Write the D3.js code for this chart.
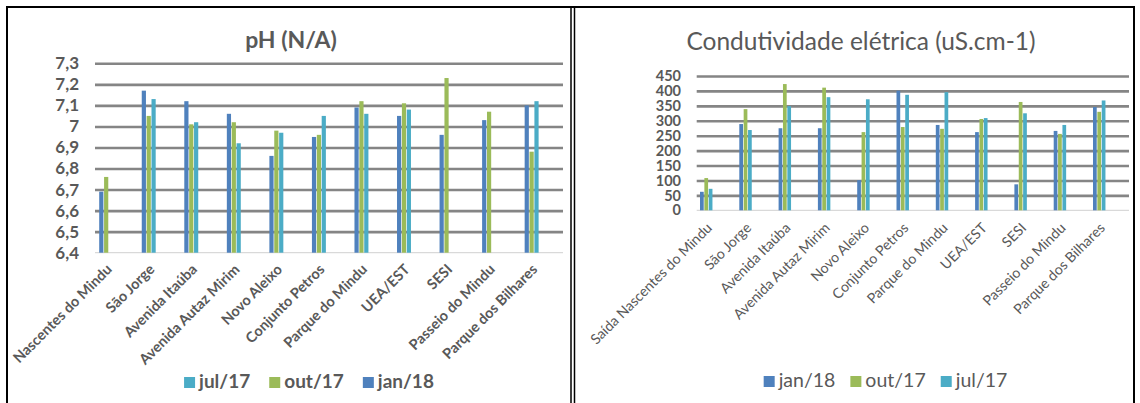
<!DOCTYPE html>
<html>
<head>
<meta charset="utf-8">
<script src="https://cdn.jsdelivr.net/npm/d3@7/dist/d3.min.js"></script>
<style>
  html, body { margin: 0; padding: 0; background: #fff; }
  svg { display: block; }
  text { font-family: Lato, "Open Sans", sans-serif; fill: #595959; }
</style>
</head>
<body>
<svg id="chart" width="1140" height="403"></svg>
<script>
// ---------------- DATA ----------------
const categoriesPH = ["Nascentes do Mindu", "São Jorge", "Avenida Itaúba", "Avenida Autaz Mirim", "Novo Aleixo", "Conjunto Petros", "Parque do Mindu", "UEA/EST", "SESI", "Passeio do Mindu", "Parque dos Bilhares"];
const categoriesCE = ["Saída Nascentes do Mindu", "São Jorge", "Avenida Itaúba", "Avenida Autaz Mirim", "Novo Aleixo", "Conjunto Petros", "Parque do Mindu", "UEA/EST", "SESI", "Passeio do Mindu", "Parque dos Bilhares"];

const phJan18 = [6.69, 7.17, 7.12, 7.06, 6.86, 6.95, 7.09, 7.05, 6.96, 7.03, 7.10];
const phOut17 = [6.76, 7.05, 7.01, 7.02, 6.98, 6.96, 7.12, 7.11, 7.23, 7.07, 6.88];
const phJul17 = [null, 7.13, 7.02, 6.92, 6.97, 7.05, 7.06, 7.08, null, null, 7.12];

const ceJan18 = [62, 289, 275, 275, 101, 401, 286, 262, 87, 266, 346];
const ceOut17 = [108, 339, 423, 411, 262, 279, 273, 306, 363, 256, 330];
const ceJul17 = [72, 269, 349, 379, 372, 387, 396, 309, 325, 286, 368];

const phTicks = [6.4, 6.5, 6.6, 6.7, 6.8, 6.9, 7.0, 7.1, 7.2, 7.3];
const phTickLabels = ["6,4", "6,5", "6,6", "6,7", "6,8", "6,9", "7", "7,1", "7,2", "7,3"];
const ceTicks = [0, 50, 100, 150, 200, 250, 300, 350, 400, 450];
const ceTickLabels = ["0", "50", "100", "150", "200", "250", "300", "350", "400", "450"];

const seriesNames = ["jan/18", "out/17", "jul/17"];
const seriesColors = { "jan/18": "#4F81BD", "out/17": "#9BBB59", "jul/17": "#4BACC6" };
const legendPH = ["jul/17", "out/17", "jan/18"];
const legendCE = ["jan/18", "out/17", "jul/17"];

const titlePH = "pH (N/A)";
const titleCE = "Condutividade elétrica (uS.cm-1)";

// ---------------- DRAW ----------------
const svg = d3.select("#chart");

// panel borders
const borders = svg.append("g").attr("fill", "none").attr("stroke", "#000");
borders.append("path").attr("d", "M7,403 V7 H1134 V403").attr("stroke-width", 2);
borders.append("line").attr("x1", 571).attr("x2", 571).attr("y1", 7).attr("y2", 403).attr("stroke-width", 1.5);
borders.append("line").attr("x1", 574.5).attr("x2", 574.5).attr("y1", 7).attr("y2", 403).attr("stroke-width", 1.5);

function drawChart(cfg) {
  const g = svg.append("g");
  const x = d3.scaleBand().domain(cfg.categories).range([cfg.x0, cfg.x1]).padding(0);
  const y = d3.scaleLinear().domain(cfg.yDomain).range([cfg.yBottom, cfg.yTop]);
  const xs = d3.scaleBand().domain(seriesNames)
    .range([cfg.groupOffset, cfg.groupOffset + 3 * cfg.barStep]).paddingInner(cfg.barGap);

  // gridlines (except the baseline)
  const gridAxis = d3.axisLeft(y).tickValues(cfg.ticks.slice(1)).tickSize(-(cfg.x1 - cfg.x0)).tickFormat("");
  const grid = g.append("g").attr("transform", `translate(${cfg.x0},0)`).call(gridAxis);
  grid.select(".domain").remove();
  grid.selectAll(".tick line").attr("stroke", "#858585").attr("stroke-width", 2.6);

  // y tick labels
  const yAxis = d3.axisLeft(y).tickValues(cfg.ticks).tickSize(0).tickPadding(0)
    .tickFormat((d, i) => cfg.tickLabels[i]);
  const ya = g.append("g").attr("transform", `translate(${cfg.yLabelX},0)`).call(yAxis);
  ya.select(".domain").remove();
  ya.selectAll("text").attr("fill", "#595959").style("font-family", "Lato, sans-serif")
    .style("font-size", cfg.yFont + "px").style("font-weight", "bold");

  // baseline
  g.append("line").attr("x1", cfg.x0).attr("x2", cfg.x1)
    .attr("y1", y(cfg.yDomain[0])).attr("y2", y(cfg.yDomain[0]))
    .attr("stroke", "#d9d9d9").attr("stroke-width", 1.2);

  // bars
  const rows = [];
  cfg.categories.forEach((c, i) => {
    seriesNames.forEach(s => {
      const v = cfg.values[s][i];
      if (v != null) rows.push({ c, s, v });
    });
  });
  g.append("g").selectAll("rect").data(rows).join("rect")
    .attr("x", d => x(d.c) + xs(d.s))
    .attr("width", xs.bandwidth())
    .attr("y", d => y(d.v))
    .attr("height", d => y(cfg.yDomain[0]) - y(d.v))
    .attr("fill", d => seriesColors[d.s]);

  // x labels
  const xa = d3.axisBottom(x).tickSize(0).tickPadding(0);
  const xg = g.append("g").attr("transform", `translate(0,${cfg.yBottom})`).call(xa);
  xg.select(".domain").remove();
  xg.selectAll("text")
    .attr("text-anchor", "end")
    .attr("transform", `translate(${cfg.xLabelDx},${cfg.xLabelDy}) rotate(-45)`)
    .attr("y", 0).attr("dy", "0.35em")
    .attr("fill", "#595959")
    .style("font-family", "Lato, sans-serif")
    .style("font-size", cfg.xFont + "px")
    .style("font-weight", cfg.xWeight);

  // title
  g.append("text").attr("x", cfg.titleX).attr("y", cfg.titleY)
    .attr("text-anchor", "middle")
    .style("font-size", cfg.titleFont + "px").style("font-weight", cfg.titleWeight)
    .text(cfg.title);

  // legend
  const lg = g.append("g");
  const items = lg.selectAll("g").data(cfg.legend).join("g");
  items.append("rect").attr("width", 11).attr("height", 11).attr("y", cfg.legendY - 11)
    .attr("fill", d => seriesColors[d]);
  items.append("text").attr("x", 15).attr("y", cfg.legendY)
    .style("font-size", cfg.legendFont + "px").style("font-weight", cfg.legendWeight)
    .text(d => d);
  let cx = 0;
  items.each(function () {
    const w = d3.select(this).select("text").node().getComputedTextLength();
    d3.select(this).attr("transform", `translate(${cx},0)`);
    cx += 15 + w + cfg.legendGap;
  });
  const total = cx - cfg.legendGap;
  lg.attr("transform", `translate(${cfg.legendCenter - total / 2},0)`);
}

drawChart({
  categories: categoriesPH,
  values: { "jan/18": phJan18, "out/17": phOut17, "jul/17": phJul17 },
  x0: 95, x1: 563, yTop: 63.3, yBottom: 252.7, yDomain: [6.4, 7.3],
  ticks: phTicks, tickLabels: phTickLabels, yLabelX: 79, yFont: 17,
  groupOffset: 4.2, barStep: 4.65, barGap: 0.14,
  xLabelDx: -7, xLabelDy: 14, xFont: 14.5, xWeight: "bold",
  title: titlePH, titleX: 291, titleY: 48, titleFont: 23, titleWeight: "bold",
  legend: legendPH, legendY: 388, legendFont: 19, legendWeight: "bold", legendCenter: 309, legendGap: 19
});

drawChart({
  categories: categoriesCE,
  values: { "jan/18": ceJan18, "out/17": ceOut17, "jul/17": ceJul17 },
  x0: 696.7, x1: 1129, yTop: 76, yBottom: 210.3, yDomain: [0, 450],
  ticks: ceTicks, tickLabels: ceTickLabels, yLabelX: 681, yFont: 14.5,
  groupOffset: 3.3, barStep: 4.15, barGap: 0.15,
  xLabelDx: -7, xLabelDy: 15, xFont: 14.2, xWeight: "normal",
  title: titleCE, titleX: 861, titleY: 50, titleFont: 24.5, titleWeight: "normal",
  legend: legendCE, legendY: 387, legendFont: 19.5, legendWeight: "normal", legendCenter: 885.5, legendGap: 15
});
</script>
</body>
</html>
